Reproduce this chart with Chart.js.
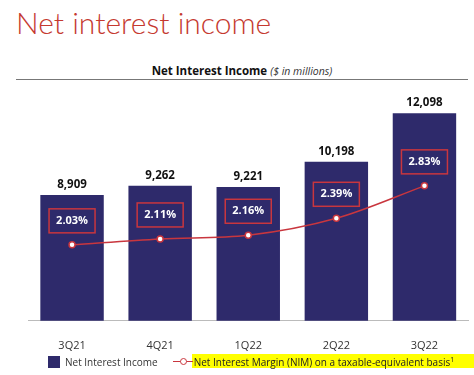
<!DOCTYPE html>
<html>
<head>
<meta charset="utf-8">
<script src="https://cdn.jsdelivr.net/npm/chart.js@4"></script>
<style>
  body { margin: 0; background: #fff; }
  #wrap { position: relative; width: 474px; height: 375px; overflow: hidden; font-family: "Open Sans", sans-serif; }
  #heading { position: absolute; left: 16px; top: 4px; font-family: Lato, sans-serif; font-weight: 300; font-size: 30px; color: #c5392f; }
  #sub { position: absolute; left: 0; width: 484px; top: 63px; text-align: center; font-size: 11.5px; color: #111; }
  #sub b { font-weight: 700; }
  #sub i { font-size: 10.5px; color: #333; }
  #rule { position: absolute; left: 16px; top: 79px; width: 452px; height: 0; border-top: 1.5px solid #777; }
  canvas { position: absolute; left: 0; top: 0; }
  #band { position: absolute; left: 192px; right: 0; top: 354px; height: 14px; background: #ffff00; }
  #legend { position: absolute; left: 48px; top: 355px; width: 500px; font-size: 10px; color: #333; display: flex; align-items: center; white-space: nowrap; }
  .sw { width: 12px; height: 12px; background: #2e2a6b; margin-right: 5px; flex: none; }
  .ln { position: relative; width: 20px; height: 10px; margin-left: 15px; flex: none; }
  .ln:before { content: ""; position: absolute; left: 0; right: 0; top: 4px; border-top: 1.5px solid #c9363e; }
  .ln:after { content: ""; position: absolute; left: 7px; top: 1px; width: 5px; height: 5px; border: 1.5px solid #c9363e; border-radius: 50%; background: #fff; }
  .hl { color: #222; padding-left: 1px; }
  .hl sup { font-size: 7px; }
</style>
</head>
<body>
<div id="wrap">
  <div id="heading">Net interest income</div>
  <div id="sub"><b>Net Interest Income</b> <i>($ in millions)</i></div>
  <div id="rule"></div>
  <canvas id="chart" width="474" height="375"></canvas>
  <div id="band"></div>
  <div id="legend">
    <div class="sw"></div><span>Net Interest Income</span>
    <div class="ln"></div><span class="hl">Net Interest Margin (NIM) on a taxable-equivalent basis<sup>1</sup></span>
  </div>
</div>
<script>
// Data
const quarters = ["3Q21", "4Q21", "1Q22", "2Q22", "3Q22"];
const netInterestIncome = [8909, 9262, 9221, 10198, 12098];
const nimPercent = [2.03, 2.11, 2.16, 2.39, 2.83];

const barColor = "#2e2a6b";
const lineColor = "#c9363e";

// Draws the value labels over bars and the boxed NIM labels
const labelPlugin = {
  id: "labels",
  afterDatasetsDraw(chart) {
    const ctx = chart.ctx;
    ctx.save();
    ctx.textAlign = "center";
    ctx.textBaseline = "middle";

    const bars = chart.getDatasetMeta(1).data;
    ctx.font = "bold 11.5px 'Open Sans', sans-serif";
    ctx.fillStyle = "#111";
    bars.forEach((bar, i) => {
      ctx.fillText(netInterestIncome[i].toLocaleString("en-US"), bar.x, bar.y - 10);
    });

    const points = chart.getDatasetMeta(0).data;
    points.forEach((pt, i) => {
      const cy = pt.y - 24;
      ctx.strokeStyle = lineColor;
      ctx.lineWidth = 1.5;
      ctx.strokeRect(pt.x - 23, cy - 12, 46, 24);
      ctx.fillStyle = "#fff";
      ctx.font = "bold 11px 'Open Sans', sans-serif";
      ctx.fillText(nimPercent[i].toFixed(2) + "%", pt.x, cy);
    });
    ctx.restore();
  },
};

new Chart(document.getElementById("chart"), {
  data: {
    labels: quarters,
    datasets: [
      {
        type: "line",
        label: "Net Interest Margin (NIM) on a taxable-equivalent basis",
        data: nimPercent,
        yAxisID: "y2",
        borderColor: lineColor,
        borderWidth: 1.5,
        pointBackgroundColor: "#fff",
        pointBorderColor: lineColor,
        pointBorderWidth: 1.5,
        pointRadius: 3,
        cubicInterpolationMode: "monotone",
      },
      {
        type: "bar",
        label: "Net Interest Income",
        data: netInterestIncome,
        yAxisID: "y",
        backgroundColor: barColor,
        categoryPercentage: 0.72,
        barPercentage: 1,
      },
    ],
  },
  options: {
    responsive: false,
    animation: false,
    layout: { padding: { left: 28, right: 5, top: 90, bottom: 13 } },
    plugins: {
      legend: { display: false },
      tooltip: { enabled: false },
    },
    scales: {
      x: {
        grid: { display: false },
        border: { color: "#bbb", width: 1 },
        ticks: { color: "#333", font: { family: "'Open Sans', sans-serif", size: 11 }, padding: 10 },
      },
      y: { display: false, min: 4000, max: 13000 },
      y2: { display: false, min: 1.0, max: 4.13 },
    },
  },
  plugins: [labelPlugin],
});
</script>
</body>
</html>
